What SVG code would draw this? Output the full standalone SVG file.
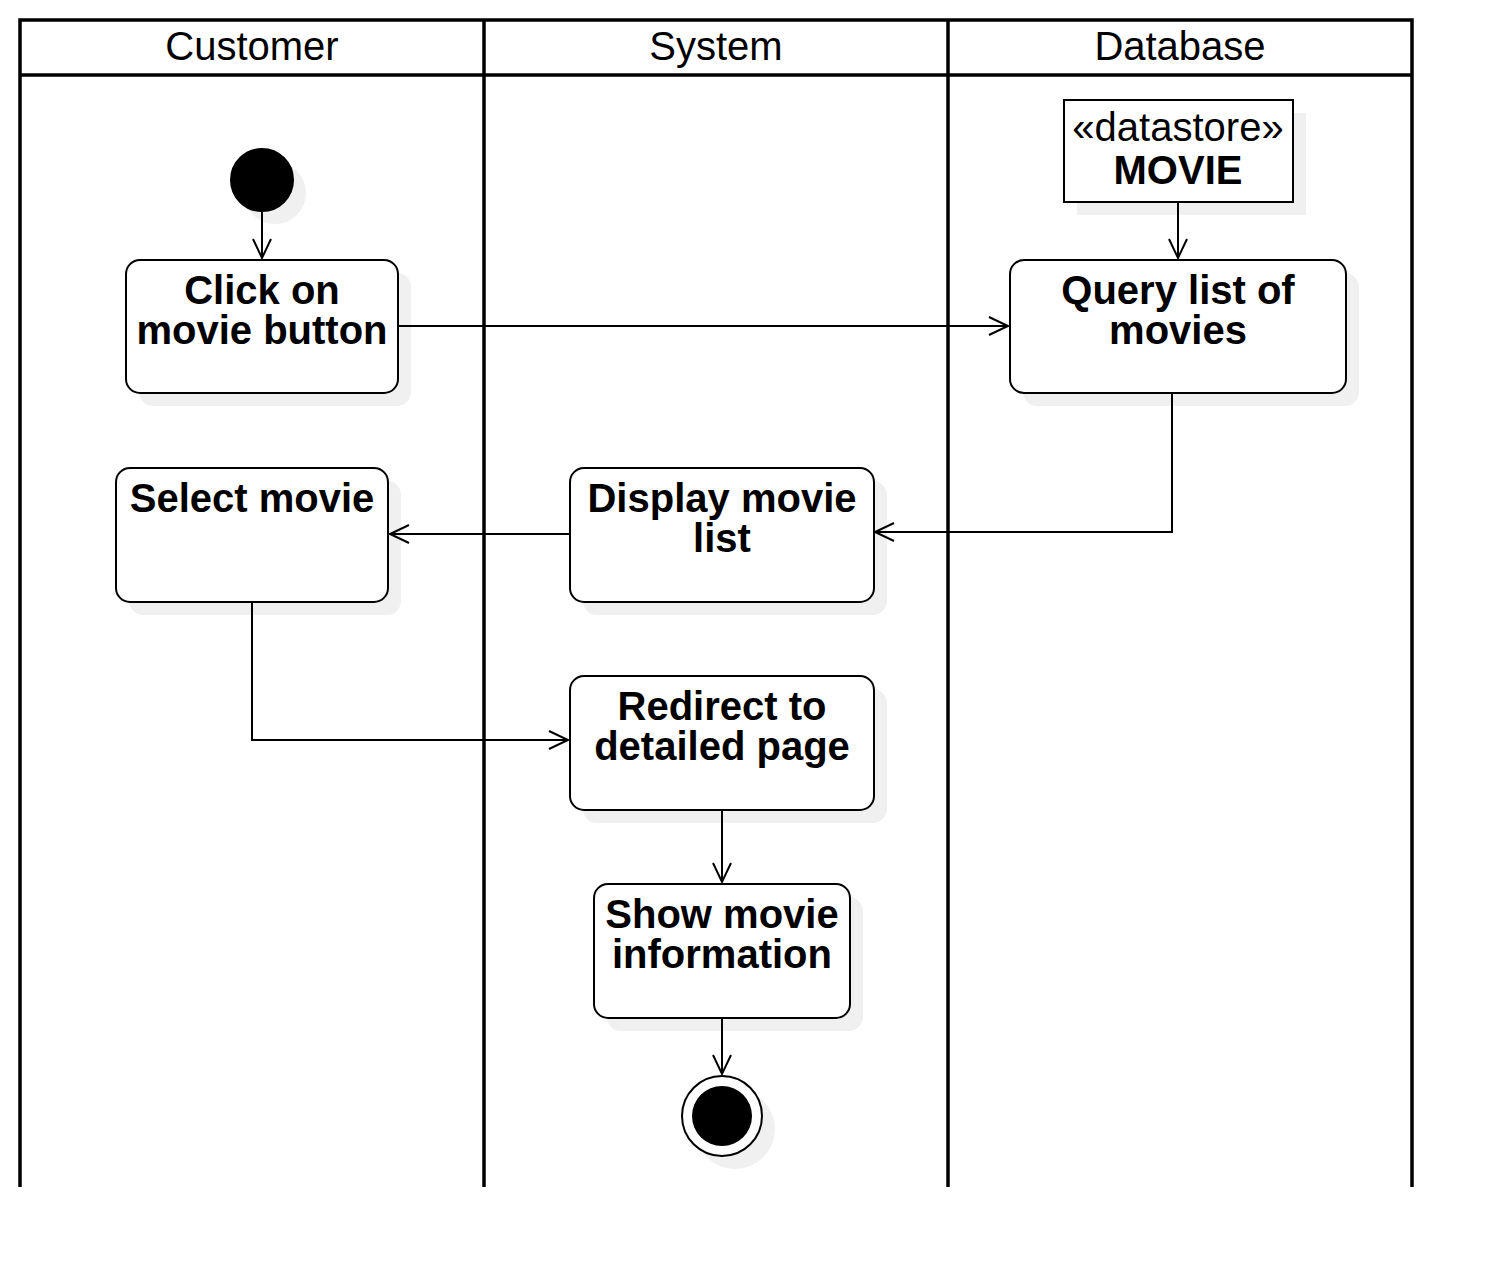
<svg xmlns="http://www.w3.org/2000/svg" width="1492" height="1268" viewBox="0 0 1492 1268">
<style>
.lane{fill:none;stroke:#000;stroke-width:3.5}
.hdr{font-family:"Liberation Sans",Arial,sans-serif;font-size:40px;text-anchor:middle;fill:#000}
.act{fill:#fff;stroke:#000;stroke-width:2}
.shd{fill:#f0f0f0;stroke:none}
.lbl{font-family:"Liberation Sans",Arial,sans-serif;font-size:40px;font-weight:bold;text-anchor:middle;fill:#000}
.reg{font-family:"Liberation Sans",Arial,sans-serif;font-size:40px;text-anchor:middle;fill:#000}
.edge{fill:none;stroke:#000;stroke-width:2;marker-end:url(#arr)}
</style>
<defs>
<marker id="arr" markerUnits="userSpaceOnUse" markerWidth="24" markerHeight="22" refX="20" refY="10" orient="auto">
<path d="M1,1 L20,10 L1,19" fill="none" stroke="#000" stroke-width="2"/>
</marker>
</defs>
<rect width="1492" height="1268" fill="#fff"/>
<g id="pool">
<path class="lane" d="M20,1187 V20 H1412 V1187"/>
<path class="lane" d="M20,75 H1412"/>
<path class="lane" d="M484,20 V1187"/>
<path class="lane" d="M948,20 V1187"/>
<text class="hdr" x="252" y="60">Customer</text>
<text class="hdr" x="716" y="60">System</text>
<text class="hdr" x="1180" y="60">Database</text>
</g>
<g id="start">
<circle class="shd" cx="275" cy="193" r="31"/>
<circle cx="262" cy="180" r="31" fill="#000" stroke="#000" stroke-width="2"/>
</g>
<g id="datastore">
<rect class="shd" x="1077" y="113" width="229" height="102"/>
<rect x="1064" y="100" width="229" height="102" fill="#fff" stroke="#000" stroke-width="2"/>
<text class="reg" x="1178" y="141">«datastore»</text>
<text class="lbl" x="1178" y="184">MOVIE</text>
</g>
<g id="click">
<rect class="shd" x="139" y="273" width="272" height="133" rx="14"/>
<rect class="act" x="126" y="260" width="272" height="133" rx="14"/>
<text class="lbl" x="262" y="304">Click on</text>
<text class="lbl" x="262" y="344">movie button</text>
</g>
<g id="query">
<rect class="shd" x="1023" y="273" width="336" height="133" rx="14"/>
<rect class="act" x="1010" y="260" width="336" height="133" rx="14"/>
<text class="lbl" x="1178" y="304">Query list of</text>
<text class="lbl" x="1178" y="344">movies</text>
</g>
<g id="select">
<rect class="shd" x="129" y="481" width="272" height="134" rx="14"/>
<rect class="act" x="116" y="468" width="272" height="134" rx="14"/>
<text class="lbl" x="252" y="512">Select movie</text>
</g>
<g id="display">
<rect class="shd" x="583" y="481" width="304" height="134" rx="14"/>
<rect class="act" x="570" y="468" width="304" height="134" rx="14"/>
<text class="lbl" x="722" y="512">Display movie</text>
<text class="lbl" x="722" y="552">list</text>
</g>
<g id="redirect">
<rect class="shd" x="583" y="689" width="304" height="134" rx="14"/>
<rect class="act" x="570" y="676" width="304" height="134" rx="14"/>
<text class="lbl" x="722" y="720">Redirect to</text>
<text class="lbl" x="722" y="760">detailed page</text>
</g>
<g id="show">
<rect class="shd" x="607" y="897" width="256" height="134" rx="14"/>
<rect class="act" x="594" y="884" width="256" height="134" rx="14"/>
<text class="lbl" x="722" y="928">Show movie</text>
<text class="lbl" x="722" y="968">information</text>
</g>
<g id="end">
<circle class="shd" cx="735" cy="1129" r="40"/>
<circle cx="722" cy="1116" r="40" fill="#fff" stroke="#000" stroke-width="2"/>
<circle cx="722" cy="1116" r="30" fill="#000"/>
</g>
<g id="connectors">
<path class="edge" d="M262,212 V258"/>
<path class="edge" d="M398,326 H1008"/>
<path class="edge" d="M1178,203 V258"/>
<path class="edge" d="M1172,394 V532 H875"/>
<path class="edge" d="M570,534 H390"/>
<path class="edge" d="M252,602 V740 H568"/>
<path class="edge" d="M722,810 V882"/>
<path class="edge" d="M722,1018 V1074"/>
</g>
</svg>
